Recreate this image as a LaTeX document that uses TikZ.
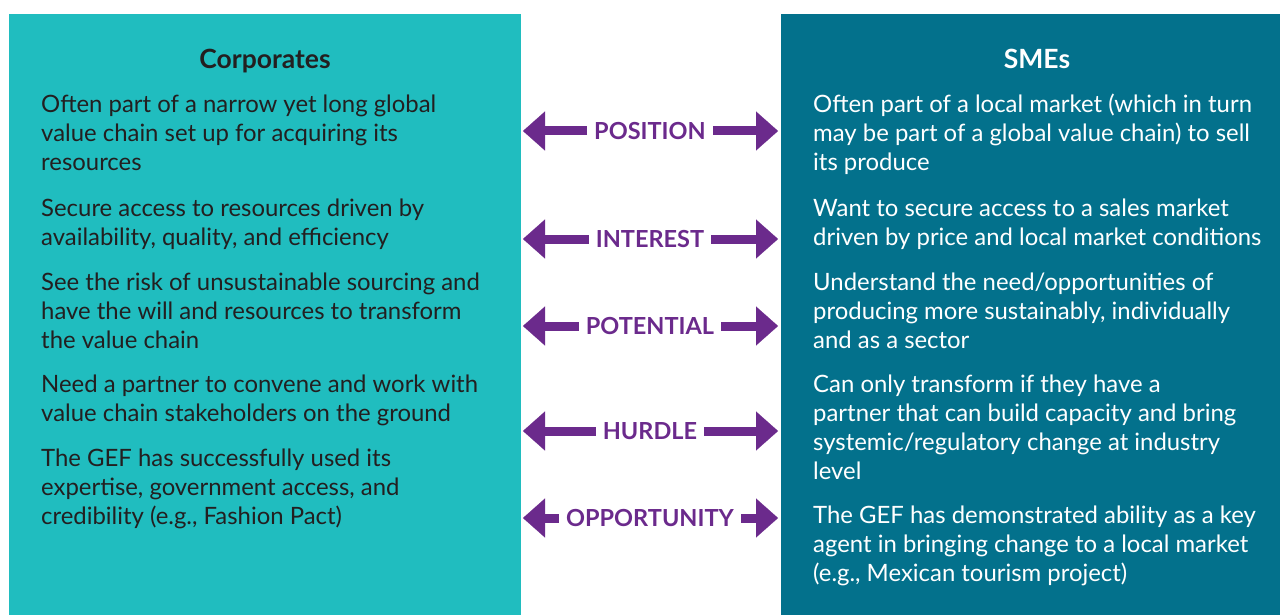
\documentclass[tikz,border=0pt]{standalone}
\usepackage{fontspec}
\setmainfont{Lato}
\usetikzlibrary{arrows.meta}
\definecolor{tealL}{HTML}{20BDBF}
\definecolor{tealR}{HTML}{03718C}
\definecolor{txtdark}{HTML}{231F20}
\definecolor{purp}{HTML}{6B2A8C}
\newcommand{\plines}[1]{\begin{tabular}[t]{@{}l@{}}#1\end{tabular}}
\begin{document}
\begin{tikzpicture}[x=1pt,y=-1pt,
  body/.style={anchor=base west,inner sep=0pt,font=\fontsize{23.9}{29}\selectfont},
  bodyL/.style={body,text=txtdark},
  bodyR/.style={body,text=white},
  head/.style={anchor=base,inner sep=0pt,font=\fontsize{26.5}{29}\selectfont\bfseries},
  lab/.style={inner ysep=2pt,inner xsep=7pt,text=purp,font=\fontsize{23.5}{27}\selectfont\bfseries},
  dbl/.style={draw=purp,line width=9pt,-{Triangle[length=22pt,width=39pt,line width=0.1pt]}}
]
\useasboundingbox (0,0) rectangle (1280,615);
\fill[tealL] (9,14) rectangle (521,615);
\fill[tealR] (781,14) rectangle (1280,615);

\node[head,text=txtdark] (hc) at (265,68.5) {Corporates};
\node[head,text=white] (hs) at (1037,68.5) {SMEs};

\node[bodyL] (c1) at (41,113) {\plines{Often part of a narrow yet long global\\value chain set up for acquiring its\\resources}};
\node[bodyL] (c2) at (41,216) {\plines{Secure access to resources driven by\\availability, quality, and efficiency}};
\node[bodyL] (c3) at (41,290) {\plines{See the risk of unsustainable sourcing and\\have the will and resources to transform\\the value chain}};
\node[bodyL] (c4) at (41,392) {\plines{Need a partner to convene and work with\\value chain stakeholders on the ground}};
\node[bodyL] (c5) at (41,466) {\plines{The GEF has successfully used its\\expertise, government access, and\\credibility (e.g., Fashion Pact)}};

\node[bodyR] (s1) at (813,113) {\plines{Often part of a local market (which in turn\\may be part of a global value chain) to sell\\its produce}};
\node[bodyR] (s2) at (813,216) {\plines{Want to secure access to a sales market\\driven by price and local market conditions}};
\node[bodyR] (s3) at (813,290) {\plines{Understand the need/opportunities of\\producing more sustainably, individually\\and as a sector}};
\node[bodyR] (s4) at (813,392) {\plines{Can only transform if they have a\\partner that can build capacity and bring\\systemic/regulatory change at industry\\level}};
\node[bodyR] (s5) at (813,523) {\plines{The GEF has demonstrated ability as a key\\agent in bringing change to a local market\\(e.g., Mexican tourism project)}};

\foreach \n/\t/\y in {a/POSITION/131, b/INTEREST/239, c/POTENTIAL/326, d/HURDLE/431, e/OPPORTUNITY/518}{
  \node[lab] (\n) at (650,\y) {\t};
  \coordinate (\n L) at (523,\y);
  \coordinate (\n R) at (778,\y);
  \draw[dbl] (\n.west) -- (\n L);
  \draw[dbl] (\n.east) -- (\n R);
}
\end{tikzpicture}
\end{document}
